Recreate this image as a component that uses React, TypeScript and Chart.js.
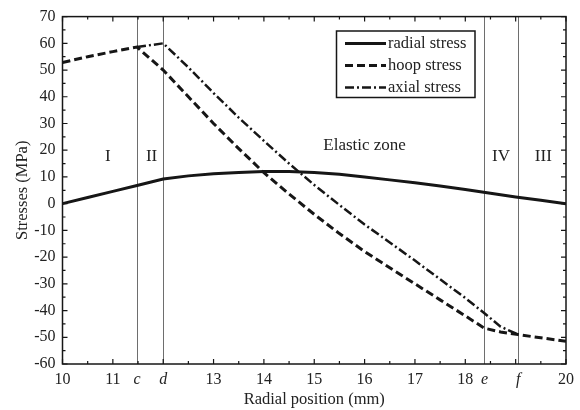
import React, { useEffect, useRef } from 'react';
import { Chart, registerables } from 'chart.js';

Chart.register(...registerables);

const SERIF = '"Liberation Serif", "Times New Roman", serif';
const INK = '#161616';
const TEXT = '#222222';

// Radial position (mm) and stresses (MPa)
const RADIAL_X = [10, 10.5, 11, 11.5, 12, 12.5, 13, 13.5, 14, 14.5, 15, 15.5, 16, 16.5, 17, 17.5, 18, 18.5, 19, 19.5, 20];
const RADIAL_Y = [0, 2.3, 4.6, 6.9, 9.2, 10.4, 11.2, 11.7, 12.0, 12.0, 11.7, 11.0, 10.0, 8.9, 7.8, 6.6, 5.3, 3.9, 2.5, 1.3, 0];

const HOOP_X = [10, 10.5, 11, 11.48, 12, 12.5, 13, 13.5, 14, 14.5, 15, 15.5, 16, 16.5, 17, 17.5, 18, 18.38, 18.7, 19.05, 19.5, 20];
const HOOP_Y = [52.8, 55.0, 56.9, 58.6, 50.0, 40.0, 30.0, 20.6, 11.6, 3.6, -4.0, -11.2, -17.9, -24.0, -30.0, -36.0, -42.0, -46.6, -48.0, -49.0, -50.2, -51.5];

const AXIAL_X = [11.48, 12, 12.5, 13, 13.5, 14, 14.5, 15, 15.5, 16, 16.5, 17, 17.5, 18, 18.38, 18.7, 19.05];
const AXIAL_Y = [58.6, 60.0, 51.0, 41.4, 32.2, 23.5, 15.0, 7.0, -0.5, -7.8, -14.5, -21.3, -28.3, -35.3, -41.0, -46.0, -49.0];

const SERIES_LABELS = ['radial stress', 'hoop stress', 'axial stress'];

// Zone boundaries c, d, e, f
const ZONE_X = [11.48, 12.0, 18.38, 19.05];
const ZONE_TICK_LABELS = ['c', 'd', 'e', 'f'];
const X_NUMBER_TICKS = [10, 11, 13, 14, 15, 16, 17, 18, 20];

const X_MIN = 10;
const X_MAX = 20;
const Y_MIN = -60;
const Y_MAX = 70;
const Y_STEP = 10;

const REGION_NAMES = ['I', 'II', 'Elastic zone', 'IV', 'III'];
const REGION_X = [10.9, 11.77, 16.0, 18.71, 19.55];
const REGION_Y = [17.5, 17.5, 21.6, 17.5, 17.5];

const X_TICKS = [
  ...X_NUMBER_TICKS.map((v) => ({ value: v, label: String(v), italic: false })),
  ...ZONE_X.map((v, i) => ({ value: v, label: ZONE_TICK_LABELS[i], italic: true })),
].sort((a, b) => a.value - b.value);

const pairs = (xs: number[], ys: number[]) => xs.map((x, i) => ({ x, y: ys[i] }));

const LINE_STYLES = [
  { dash: [] as number[], width: 3 },
  { dash: [8, 4], width: 3 },
  { dash: [9, 3, 2, 3], width: 2.5 },
];

const decorPlugin = {
  id: 'decor',
  beforeDatasetsDraw(chart: any) {
    const { ctx, chartArea: a, scales } = chart;
    const x = scales.x;
    const y = scales.y;
    ctx.save();
    // zone boundary lines
    ctx.strokeStyle = '#6e6e6e';
    ctx.lineWidth = 1;
    ZONE_X.forEach((v) => {
      const px = Math.round(x.getPixelForValue(v)) + 0.5;
      ctx.beginPath();
      ctx.moveTo(px, a.top);
      ctx.lineTo(px, a.bottom);
      ctx.stroke();
    });
    // region names
    ctx.fillStyle = TEXT;
    ctx.font = `17px ${SERIF}`;
    ctx.textAlign = 'center';
    ctx.textBaseline = 'middle';
    REGION_NAMES.forEach((name, i) => {
      ctx.fillText(name, x.getPixelForValue(REGION_X[i]), y.getPixelForValue(REGION_Y[i]));
    });
    ctx.restore();
  },
  afterDraw(chart: any) {
    const { ctx, chartArea: a, scales } = chart;
    const x = scales.x;
    const y = scales.y;
    ctx.save();
    ctx.strokeStyle = INK;
    ctx.lineWidth = 1.5;
    ctx.setLineDash([]);
    ctx.strokeRect(a.left, a.top, a.right - a.left, a.bottom - a.top);

    // inward tick marks on all four sides
    ctx.lineWidth = 1.2;
    ctx.beginPath();
    for (let v = X_MIN; v <= X_MAX + 1e-9; v += 0.5) {
      const len = Math.abs(v - Math.round(v)) < 1e-6 ? 5 : 3;
      const px = x.getPixelForValue(v);
      ctx.moveTo(px, a.bottom);
      ctx.lineTo(px, a.bottom - len);
      ctx.moveTo(px, a.top);
      ctx.lineTo(px, a.top + len);
    }
    for (let v = Y_MIN; v <= Y_MAX + 1e-9; v += Y_STEP / 2) {
      const len = v % Y_STEP === 0 ? 5 : 3;
      const py = y.getPixelForValue(v);
      ctx.moveTo(a.left, py);
      ctx.lineTo(a.left + len, py);
      ctx.moveTo(a.right, py);
      ctx.lineTo(a.right - len, py);
    }
    ctx.stroke();

    // legend
    const box = { left: 336.5, top: 31, right: 475, bottom: 97.5 };
    ctx.fillStyle = '#ffffff';
    ctx.fillRect(box.left, box.top, box.right - box.left, box.bottom - box.top);
    ctx.lineWidth = 1.5;
    ctx.strokeStyle = INK;
    ctx.strokeRect(box.left, box.top, box.right - box.left, box.bottom - box.top);
    ctx.font = `16.5px ${SERIF}`;
    ctx.textAlign = 'left';
    ctx.textBaseline = 'middle';
    chart.data.datasets.forEach((ds: any, i: number) => {
      const rowY = 43.5 + i * 22;
      ctx.strokeStyle = INK;
      ctx.lineWidth = LINE_STYLES[i].width;
      ctx.setLineDash(LINE_STYLES[i].dash);
      ctx.beginPath();
      ctx.moveTo(345, rowY);
      ctx.lineTo(386, rowY);
      ctx.stroke();
      ctx.setLineDash([]);
      ctx.fillStyle = TEXT;
      ctx.fillText(ds.label, 388, rowY + 0.5);
    });
    ctx.restore();
  },
};

export default function App() {
  const canvasRef = useRef<HTMLCanvasElement | null>(null);

  useEffect(() => {
    if (!canvasRef.current) return;
    const seriesX = [RADIAL_X, HOOP_X, AXIAL_X];
    const seriesY = [RADIAL_Y, HOOP_Y, AXIAL_Y];
    const chart = new Chart(canvasRef.current, {
      type: 'line',
      data: {
        datasets: SERIES_LABELS.map((label, i) => ({
          label,
          data: pairs(seriesX[i], seriesY[i]),
          borderColor: INK,
          borderWidth: LINE_STYLES[i].width,
          borderDash: LINE_STYLES[i].dash,
          pointRadius: 0,
          tension: 0,
          fill: false,
        })),
      },
      options: {
        animation: false,
        responsive: false,
        devicePixelRatio: 1,
        layout: { padding: { left: 0, top: 15.5, right: 14, bottom: 0 } },
        plugins: { legend: { display: false }, tooltip: { enabled: false } },
        scales: {
          x: {
            type: 'linear',
            min: X_MIN,
            max: X_MAX,
            grid: { display: false, drawTicks: false },
            border: { display: false },
            afterBuildTicks: (scale: any) => {
              scale.ticks = X_TICKS.map((t) => ({ value: t.value }));
            },
            afterFit: (scale: any) => {
              scale.height = 46;
            },
            ticks: {
              autoSkip: false,
              maxRotation: 0,
              padding: 6,
              color: TEXT,
              callback: (_v: any, index: number) => X_TICKS[index].label,
              font: (c: any) => ({
                family: SERIF,
                size: 16,
                style: X_TICKS[c.index] && X_TICKS[c.index].italic ? 'italic' : 'normal',
              }),
            },
            title: {
              display: true,
              text: 'Radial position (mm)',
              color: TEXT,
              font: { family: SERIF, size: 16.5 },
              padding: { top: 0, bottom: 0 },
            },
          },
          y: {
            type: 'linear',
            min: Y_MIN,
            max: Y_MAX,
            grid: { display: false, drawTicks: false },
            border: { display: false },
            afterFit: (scale: any) => {
              scale.width = 62.5;
            },
            ticks: {
              stepSize: Y_STEP,
              padding: 7,
              color: TEXT,
              font: { family: SERIF, size: 16 },
            },
            title: {
              display: true,
              text: 'Stresses (MPa)',
              color: TEXT,
              font: { family: SERIF, size: 16.5 },
              padding: { top: 13, bottom: 0 },
            },
          },
        },
      },
      plugins: [decorPlugin],
    });
    return () => chart.destroy();
  }, []);

  return (
    <div style={{ position: 'fixed', left: 0, top: 0, width: 580, height: 410, background: '#fff' }}>
      <canvas ref={canvasRef} width={580} height={410} style={{ display: 'block' }} />
    </div>
  );
}
